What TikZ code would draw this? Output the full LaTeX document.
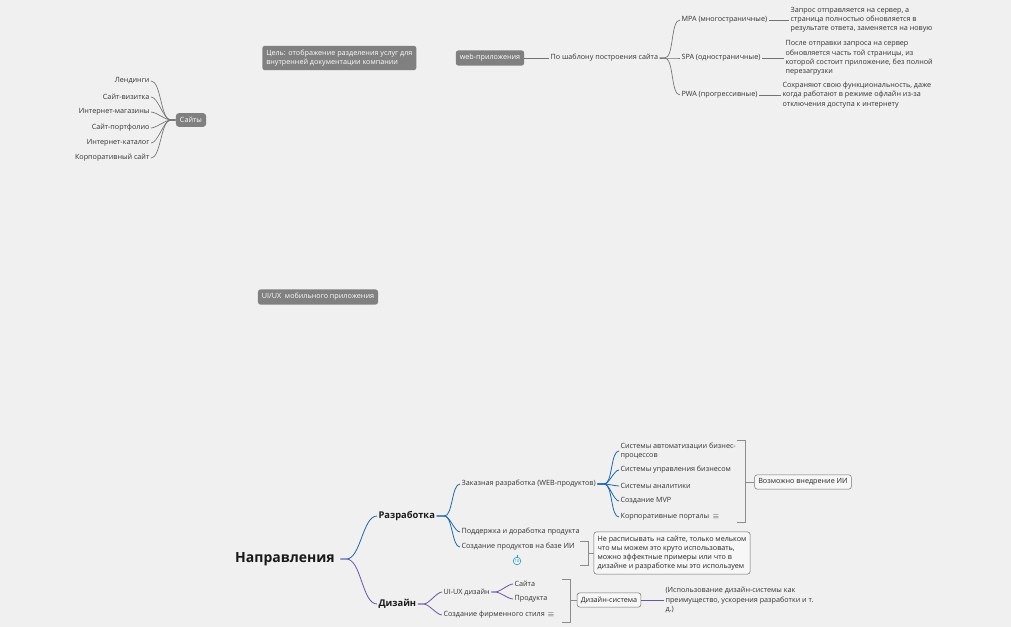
\documentclass[tikz,border=0pt]{standalone}
\usepackage{fontspec}
\setmainfont{Open Sans}
\definecolor{pur}{HTML}{6A55A8}
\definecolor{blu}{HTML}{1F66A8}
\begin{document}
\begin{tikzpicture}[x=0.75pt,y=-0.75pt,
  txt/.style={inner sep=1pt,text=black!80,font=\fontsize{5.4}{6.9}\selectfont,align=left},
  dbox/.style={fill=black!50,rounded corners=2pt,text=white,inner sep=3pt,font=\fontsize{5.4}{6.9}\selectfont,align=left},
  obox/.style={draw=black!55,rounded corners=2pt,fill=black!3,inner sep=2.8pt,text=black!85,font=\fontsize{5.4}{6.9}\selectfont,align=left},
  big/.style={inner sep=1pt,text=black!90,font=\bfseries\fontsize{7}{8}\selectfont},
  gl/.style={draw=black!55,line width=0.5pt},
  bl/.style={draw=blu,line width=0.6pt},
  pl/.style={draw=pur,line width=0.6pt},
  br/.style={draw=black!45,line width=0.6pt}]
\fill[black!6] (0,0) rectangle (1011,627);
\useasboundingbox (0,0) rectangle (1011,627);
% goal
\node[dbox,anchor=west] (goal) at (262,58) {Цель: отображение разделения услуг для\\внутренней документации компании};
% web
\node[dbox] (web) at (490,58) {web-приложения};
\node[txt,anchor=west] (tpl) at (549,58) {По шаблону построения сайта};
\node[txt,anchor=west] (mpa) at (680,20) {MPA (многостраничные)};
\node[txt,anchor=west] (spa) at (680,58) {SPA (одностраничные)};
\node[txt,anchor=west] (pwa) at (680,95) {PWA (прогрессивные)};
\node[txt,anchor=west] (mpad) at (789,20) {Запрос отправляется на сервер, а\\страница полностью обновляется в\\результате ответа, заменяется на новую};
\node[txt,anchor=west] (spad) at (784,58) {После отправки запроса на сервер\\обновляется часть той страницы, из\\которой состоит приложение, без полной\\перезагрузки};
\node[txt,anchor=west] (pwad) at (781,95) {Сохраняют свою функциональность, даже\\когда работают в режиме офлайн из-за\\отключения доступа к интернету};
\draw[gl] (web.east) -- (tpl.west);
\foreach \c in {mpa,spa,pwa}{\draw[gl] (tpl.east) -- ++(5,0) to[out=0,in=180,looseness=0.6] (\c.west);}
\draw[gl] (mpa.east) -- (mpad.west);
\draw[gl] (spa.east) -- (spad.west);
\draw[gl] (pwa.east) -- (pwad.west);
% sites
\node[dbox] (sites) at (191,120) {Сайты};
\node[txt,anchor=east] (s1) at (151,81) {Лендинги};
\node[txt,anchor=east] (s2) at (151,97) {Сайт-визитка};
\node[txt,anchor=east] (s3) at (151,112) {Интернет-магазины};
\node[txt,anchor=east] (s4) at (151,128) {Сайт-портфолио};
\node[txt,anchor=east] (s5) at (151,143) {Интернет-каталог};
\node[txt,anchor=east] (s6) at (151,158) {Корпоративный сайт};
\foreach \c in {s1,s2,s3,s4,s5,s6}{\draw[gl] (sites.west) -- ++(-5,0) to[out=180,in=0,looseness=0.6] (\c.east);}
% ui/ux
\node[dbox] (uiux) at (318,297) {UI/UX\ \ мобильного приложения};
% directions
\node[inner sep=1pt,text=black!90,font=\bfseries\fontsize{10.5}{12}\selectfont] (dir) at (285,559) {Направления};
\node[big,anchor=west] (dev) at (377,516) {Разработка};
\node[big,anchor=west] (des) at (377,604) {Дизайн};
\draw[bl] (dir.east) ++(4,0) coordinate (d0) -- ++(6,0) to[out=0,in=180,looseness=0.7] (dev.west);
\draw[pl] (d0) -- ++(6,0) to[out=0,in=180,looseness=0.7] (des.west);
% dev children
\node[txt,anchor=west] (zak) at (460,484) {Заказная разработка (WEB-продуктов)};
\node[txt,anchor=west] (pod) at (460,532) {Поддержка и доработка продукта};
\node[txt,anchor=west] (ai) at (460,547) {Создание продуктов на базе ИИ};
\foreach \c in {zak,pod,ai}{\draw[bl] (dev.east) -- ++(8,0) to[out=0,in=180,looseness=0.6] (\c.west);}
\node[txt,anchor=west] (z1) at (619,451) {Системы автоматизации бизнес-\\процессов};
\node[txt,anchor=west] (z2) at (619,470) {Системы управления бизнесом};
\node[txt,anchor=west] (z3) at (619,486) {Системы аналитики};
\node[txt,anchor=west] (z4) at (619,501) {Создание MVP};
\node[txt,anchor=west] (z5) at (619,517) {Корпоративные порталы};
\node[txt] (n1) at (716,517) {$\equiv$};
\foreach \c in {z1,z2,z3,z4,z5}{\draw[bl] (zak.east) -- ++(7,0) to[out=0,in=180,looseness=0.6] (\c.west);}
\node[obox] (ii) at (803,482) {Возможно внедрение ИИ};
\draw[br] (737,440) -- (745,440) -- (745,522) -- (737,522) (745,482) -- (ii.west);
\node[draw=blu!70!cyan,circle,inner sep=0.6pt,text=blu!70!cyan,font=\fontsize{3}{3}\selectfont] (ten) at (517,561) {10};
\draw[blu!70!cyan,line width=0.4pt] (517,555) -- (ten.north);
\node[obox] (note) at (672,553) {Не расписывать на сайте, только мельком\\что мы можем это круто использовать,\\можно эффектные примеры или что в\\дизайне и разработке мы это используем};
\draw[br] (580,541) -- (588,541) -- (588,565) -- (580,565) (588,553) -- (note.west);
% design
\node[txt,anchor=west] (uxd) at (442,592) {UI-UX дизайн};
\node[txt,anchor=west] (brand) at (442,615) {Создание фирменного стиля};
\node[txt] (n2) at (551,615) {$\equiv$};
\foreach \c in {uxd,brand}{\draw[pl] (des.east) -- ++(6,0) to[out=0,in=180,looseness=0.6] (\c.west);}
\node[txt,anchor=west] (u1) at (513,584) {Сайта};
\node[txt,anchor=west] (u2) at (513,599) {Продукта};
\foreach \c in {u1,u2}{\draw[pl] (uxd.east) -- ++(4,0) to[out=0,in=180,looseness=0.6] (\c.west);}
\node[obox] (dsys) at (609,600) {Дизайн-система};
\draw[br] (562,579) -- (570,579) -- (570,622) -- (562,622) (570,600) -- (dsys.west);
\node[txt,anchor=west] (dsd) at (664,600) {(Использование дизайн-системы как\\преимущество, ускорения разработки и т.\\д.)};
\draw[pl] (dsys.east) -- (dsd.west);
\end{tikzpicture}
\end{document}
